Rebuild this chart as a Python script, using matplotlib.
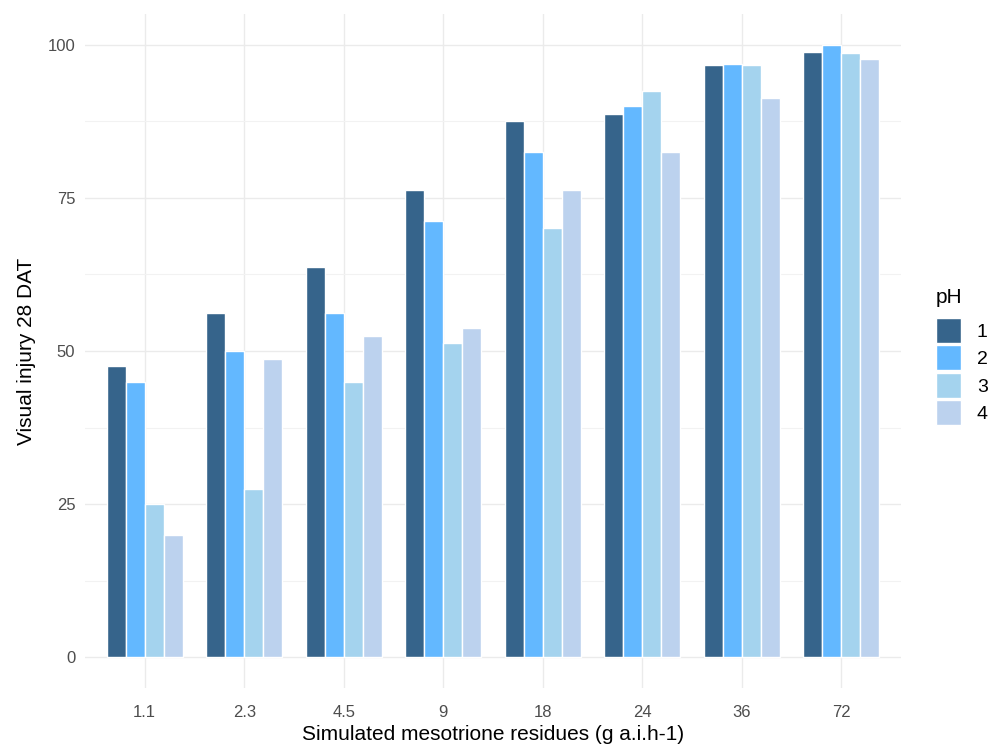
import matplotlib
matplotlib.use("Agg")
import matplotlib.pyplot as plt
import numpy as np
from matplotlib.patches import Patch

plt.rcParams['font.family'] = ['Liberation Sans', 'DejaVu Sans']

# data
doses = ["1.1", "2.3", "4.5", "9", "18", "24", "36", "72"]
ph_levels = ["1", "2", "3", "4"]
ph1 = [47.5, 56.25, 63.75, 76.25, 87.5, 88.75, 96.6, 98.75]
ph2 = [45.0, 50.0, 56.25, 71.25, 82.5, 90.0, 96.8, 100.0]
ph3 = [25.0, 27.5, 45.0, 51.25, 70.0, 92.5, 96.6, 98.6]
ph4 = [20.0, 48.75, 52.5, 53.75, 76.25, 82.5, 91.3, 97.6]
colors = ["#36648B", "#63B8FF", "#A4D3EE", "#BCD2EE"]

fig = plt.figure(figsize=(9.95, 7.51), dpi=100)
ax = fig.add_axes([85/995, 1-688/751, (901-85)/995, (688-14)/751])

x = np.arange(len(doses))
w = 0.19
series = [ph1, ph2, ph3, ph4]
for i, vals in enumerate(series):
    ax.bar(x + (i - 1.5)*w, vals, width=w, color=colors[i], edgecolor="white",
           linewidth=1.0, zorder=3)

ax.set_xlim(-0.6, len(doses) - 0.4)
ax.set_ylim(-5, 105)
ax.set_xticks(x)
ax.set_xticklabels(doses)
ax.set_yticks([0, 25, 50, 75, 100])
ax.set_yticks([12.5, 37.5, 62.5, 87.5], minor=True)
ax.grid(True, which="major", color="#EBEBEB", linewidth=1.0, zorder=0)
ax.grid(True, which="minor", axis="y", color="#F2F2F2", linewidth=0.8, zorder=0)
ax.tick_params(which="both", length=0)
ax.tick_params(axis="both", labelsize=12, labelcolor="#4D4D4D")
ax.tick_params(axis="x", pad=12)
ax.tick_params(axis="y", pad=7)
for s in ax.spines.values():
    s.set_visible(False)

ax.set_xlabel("Simulated mesotrione residues (g a.i.h-1)", fontsize=15, labelpad=4)
ax.set_ylabel("Visual injury 28 DAT", fontsize=15, labelpad=8)

handles = [Patch(facecolor=c, edgecolor="white") for c in colors]
leg = fig.legend(handles, ph_levels, title="pH", loc="upper left",
                 bbox_to_anchor=(936/995, 1-288/751), frameon=False,
                 fontsize=14, title_fontsize=15, handlelength=1.3,
                 handleheight=1.6, handletextpad=0.8, labelspacing=0.12,
                 borderpad=0, borderaxespad=0)
leg._legend_box.align = "left"
leg._legend_box.sep = 8

fig.savefig("out.png", dpi=100)
